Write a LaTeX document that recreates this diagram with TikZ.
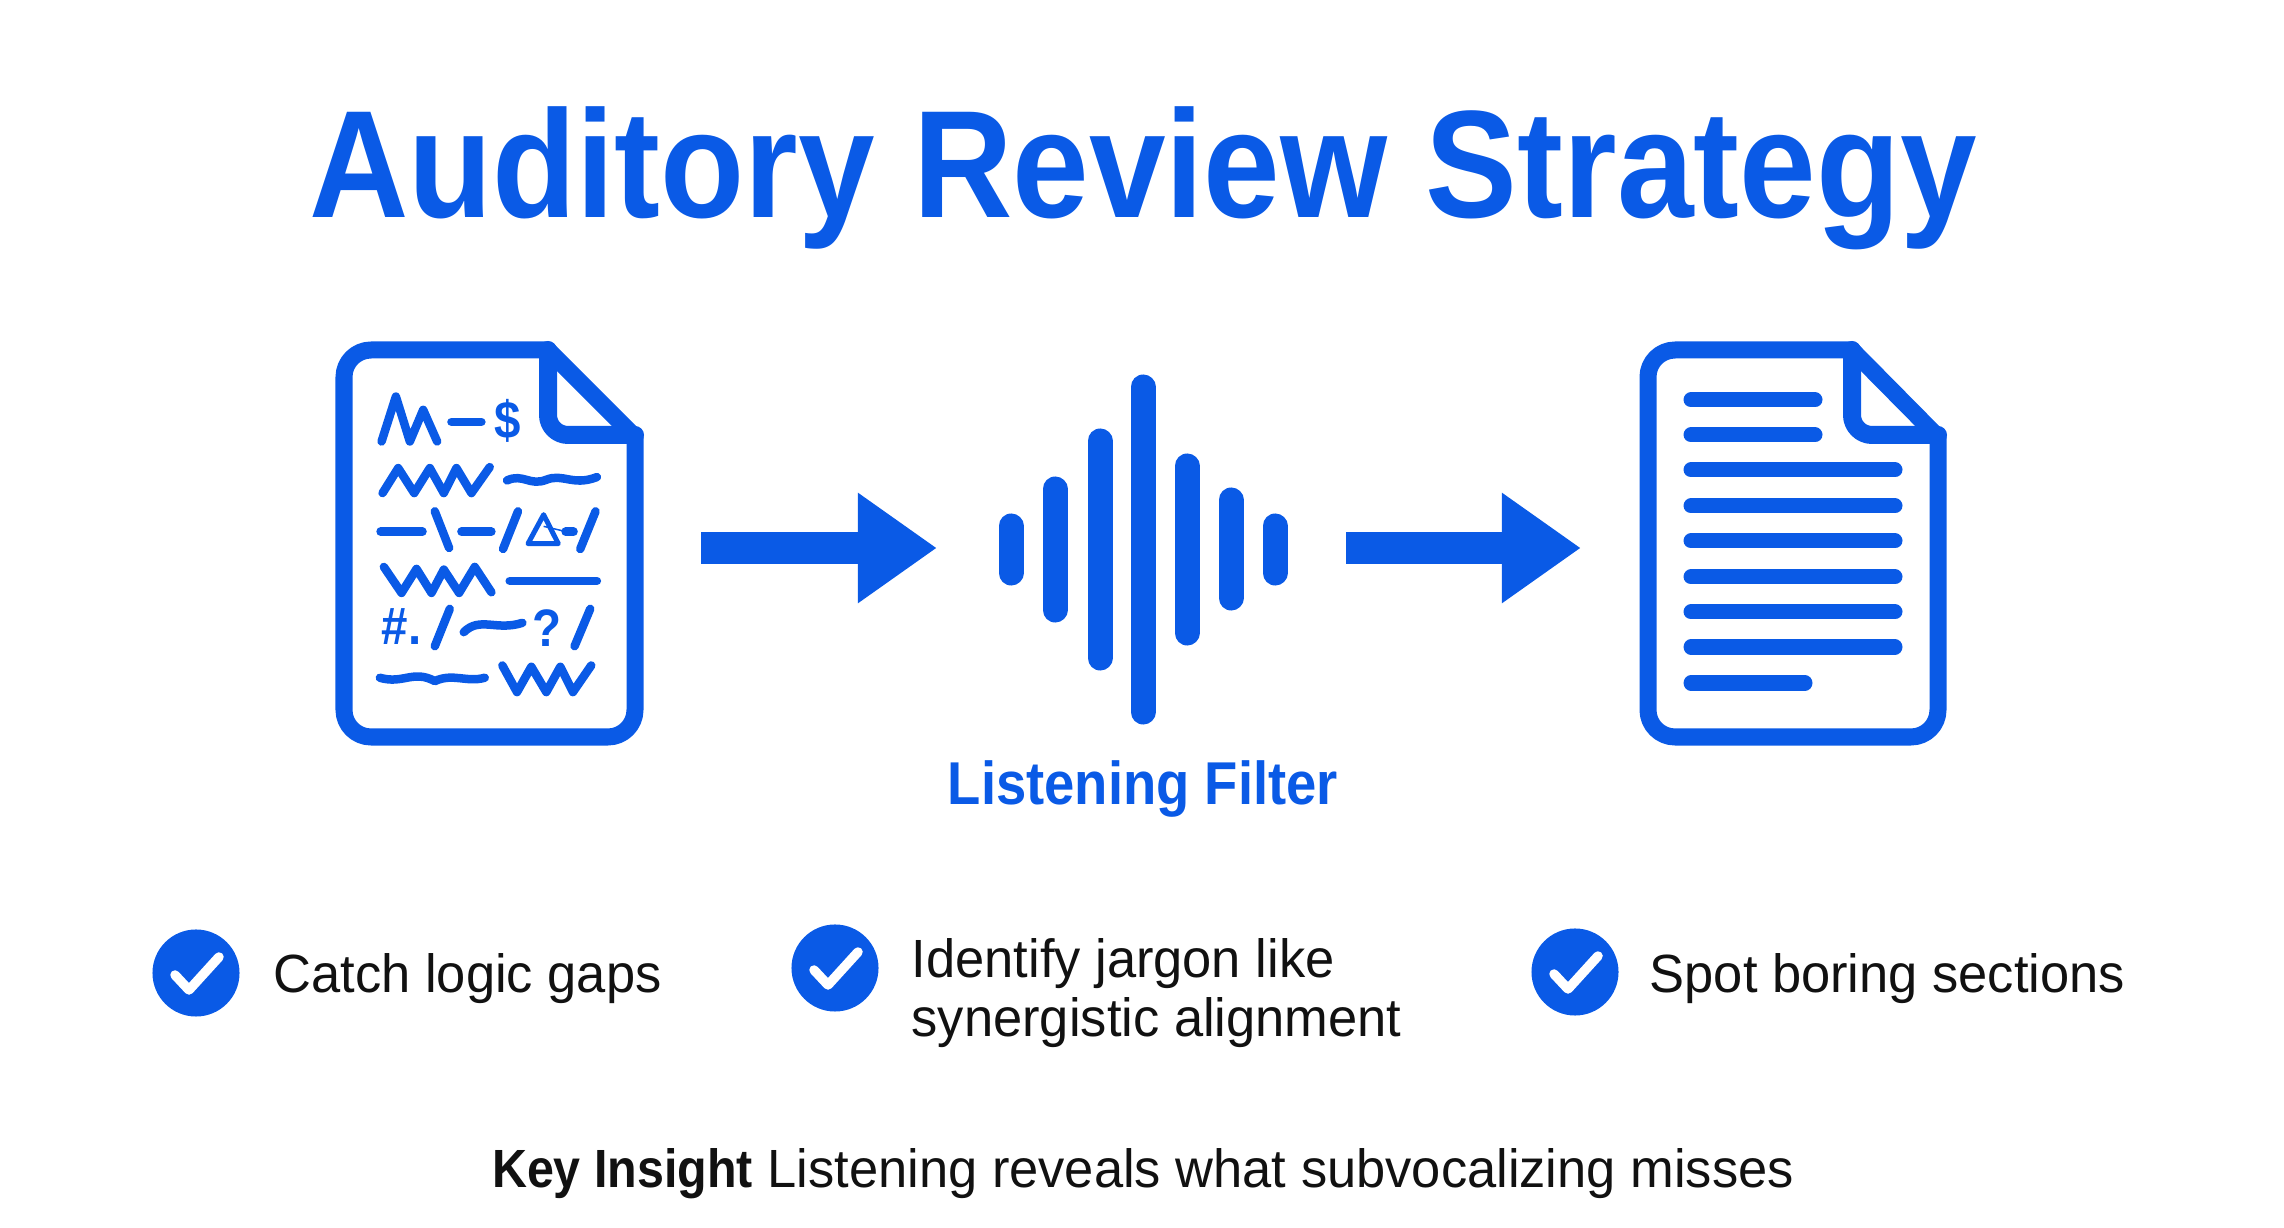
\documentclass[tikz,border=0pt]{standalone}
\usepackage{fontspec}
\setmainfont{Liberation Sans}[FakeStretch=0.975, BoldFeatures={FakeStretch=0.9}]
\usetikzlibrary{positioning,arrows.meta,calc}
\definecolor{filterblue}{HTML}{0A5AE6}
\definecolor{inkblack}{HTML}{111111}
\tikzset{
    docline/.style={filterblue, line width=1.5mm, line cap=round},
    scrawl/.style={filterblue, line width=0.85mm, line cap=round, line join=round},
    scrawlsign/.style={filterblue, inner sep=0pt, font=\bfseries\fontsize{15}{15}\selectfont},
    wavebar/.style={filterblue, line width=2.5mm, line cap=round},
    docbody/.style={filterblue, line width=1.7mm, line join=round},
    docfold/.style={filterblue, line width=1.8mm, line join=round, line cap=round},
    flowarrow/.style={filterblue, line width=3.2mm, -{Triangle[length=7.9mm,width=10.5mm]}},
    holder/.style={inner sep=0pt, outer sep=0pt, minimum height=1cm},
    checkdot/.style={circle, fill=filterblue, minimum size=0.87cm, inner sep=0pt},
    itemtext/.style={inkblack, anchor=base west, inner sep=0pt, align=left, font=\fontsize{15.3}{17}\selectfont}
}
\begin{document}
\begin{tikzpicture}[x=0.01cm, y=-0.01cm]
        \useasboundingbox (0, 0) rectangle (2284, 1228);

        % Titulo
        \node[filterblue, anchor=base, inner sep=0pt, font=\bfseries\fontsize{43.5}{43.5}\selectfont] (title) at (1143, 218) {Auditory Review Strategy};

        % Documento confuso
        \draw[docbody] (548, 350) [rounded corners=2.7mm] -- (344, 350) -- (344, 737) -- (635, 737) [sharp corners] -- (635, 437) -- cycle;
        \draw[docfold] (548, 350) -- (548, 415) arc (180:90:20) -- (635, 435);

        % Rabiscos (coordenadas do recorte)
        \begin{scope}[shift={(320, 330)}, x=0.00333cm, y=-0.00333cm]
            \draw[scrawl] (185, 335) -- (228, 200) -- (270, 335) -- (310, 240) -- (352, 335);
            \draw[scrawl] (395, 276) -- (485, 276);
            \node[scrawlsign] (sign) at (563, 272) {\$};
            \draw[scrawl] (188, 490) -- (235, 415) -- (283, 490) -- (330, 415) -- (372, 490) -- (410, 415) -- (455, 490) -- (510, 412);
            \draw[scrawl] (562, 452) .. controls (610, 430) and (630, 470) .. (680, 450) .. controls (730, 430) and (760, 470) .. (832, 442);
            \draw[scrawl] (182, 606) -- (308, 606);
            \draw[scrawl] (345, 545) -- (388, 655);
            \draw[scrawl] (425, 606) -- (515, 606);
            \draw[scrawl] (550, 658) -- (595, 545);
            \draw[filterblue, line width=0.5mm, line join=round] (625, 642) -- (672, 555) -- (716, 642) -- cycle;
            \draw[filterblue, line width=0.15mm] (672, 590) -- (740, 606);
            \draw[scrawl] (738, 606) -- (762, 606);
            \draw[scrawl] (782, 658) -- (828, 545);
            \draw[scrawl] (192, 712) -- (245, 790) -- (290, 718) -- (335, 790) -- (372, 720) -- (418, 790) -- (465, 712) -- (515, 788);
            \draw[scrawl] (570, 754) -- (832, 754);
            \node[scrawlsign] (hash) at (245, 890) {\#.};
            \draw[scrawl] (345, 950) -- (390, 838);
            \draw[scrawl] (432, 908) .. controls (480, 860) and (530, 905) .. (608, 880);
            \node[scrawlsign] (quest) at (682, 895) {?};
            \draw[scrawl] (765, 950) -- (812, 838);
            \draw[scrawl] (180, 1045) .. controls (250, 1065) and (280, 1020) .. (345, 1055) .. controls (400, 1030) and (440, 1060) .. (495, 1045);
            \draw[scrawl] (548, 1008) -- (592, 1088) -- (635, 1012) -- (680, 1088) -- (722, 1012) -- (760, 1088) -- (815, 1008);
        \end{scope}

        % Onda sonora
        \foreach \barx/\bartop/\barbot in {1011/526/573, 1055/489/610, 1100/441/658, 1143/387/712, 1187/466/633, 1231/500/598, 1275/526/573}
            \draw[wavebar] (\barx, \bartop) -- (\barx, \barbot);
        \node[filterblue, anchor=base, inner sep=0pt, font=\bfseries\fontsize{17.2}{17.2}\selectfont] (filterlabel) at (1143, 805) {Listening Filter};

        % Documento limpo
        \draw[docbody] (1852, 350) [rounded corners=2.7mm] -- (1648, 350) -- (1648, 737) -- (1938, 737) [sharp corners] -- (1938, 437) -- cycle;
        \draw[docfold] (1852, 350) -- (1852, 415) arc (180:90:20) -- (1938, 435);
        \foreach \liney/\lineend in {400/1815, 435/1815, 470/1895, 506/1895, 541/1895, 577/1895, 612/1895, 647/1895, 683/1805}
            \draw[docline] (1691, \liney) -- (\lineend, \liney);

        % Setas
        \node[holder, minimum width=3.07cm] (draftdoc) at (489.5, 548) {};
        \node[holder, minimum width=2.72cm] (waveform) at (1143, 548) {};
        \node[holder, minimum width=3.06cm] (cleandoc) at (1793, 548) {};
        \draw[flowarrow, shorten <=0.58cm, shorten >=0.70cm] (draftdoc.east) -- (waveform.west);
        \draw[flowarrow, shorten <=0.67cm, shorten >=0.59cm] (waveform.east) -- (cleandoc.west);

        % Itens
        \node[checkdot] (checkA) at (196, 973) {};
        \node[checkdot] (checkB) at (835, 968) {};
        \node[checkdot] (checkC) at (1575, 972) {};
        \foreach \dotname in {checkA, checkB, checkC}
            \draw[white, line width=0.95mm, line cap=round, line join=round] ($(\dotname)+(-21, 2)$) -- ($(\dotname)+(-7, 17)$) -- ($(\dotname)+(23, -16)$);
        \node[itemtext] (itemA) at (273, 992) {Catch logic gaps};
        \node[itemtext] (itemB) at (911, 1037) {Identify jargon like\\synergistic alignment};
        \node[itemtext] (itemC) at (1649, 992) {Spot boring sections};

        % Conclusao
        \node[inkblack, anchor=base, inner sep=0pt, font=\fontsize{15.3}{17}\selectfont] (insight) at (1143, 1187) {\textbf{Key Insight} Listening reveals what subvocalizing misses};
    \end{tikzpicture}
\end{document}
